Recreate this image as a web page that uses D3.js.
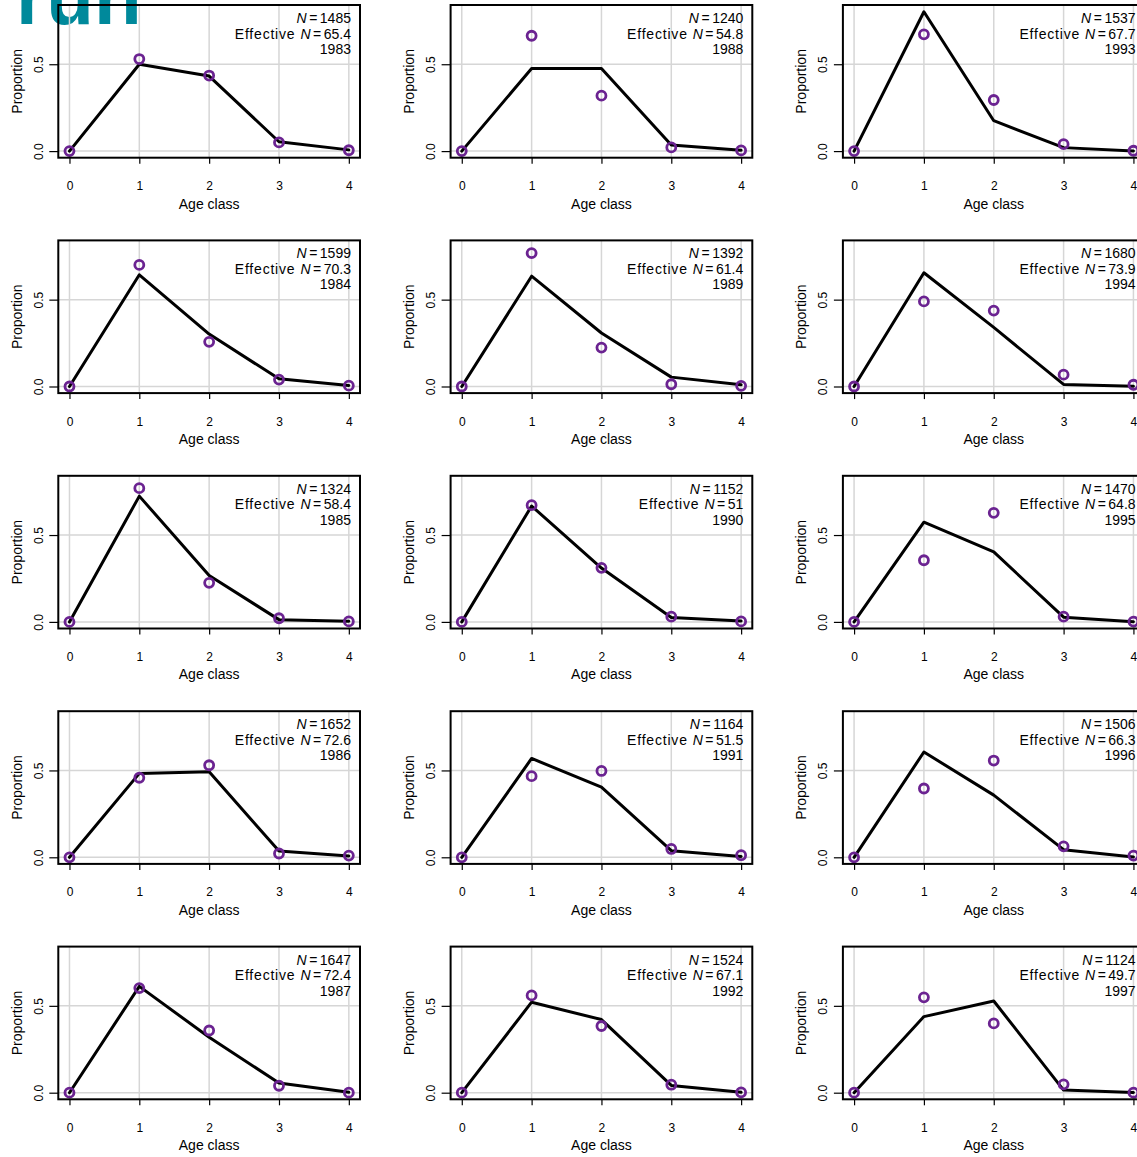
<!DOCTYPE html>
<html>
<head>
<meta charset="utf-8">
<script src="https://cdn.jsdelivr.net/npm/d3@7/dist/d3.min.js"></script>
<style>
  html, body { margin: 0; padding: 0; background: #fff; }
  svg { display: block; font-family: "Liberation Sans", Arial, Helvetica, sans-serif; }
</style>
</head>
<body>
<svg id="chart" width="1137" height="1157"></svg>
<script>
// Age composition by year: observed proportions (points) and fitted proportions (line)
const ageClasses = [0, 1, 2, 3, 4];
const yTicks = [0, 0.5];

const years      = [1983, 1984, 1985, 1986, 1987, 1988, 1989, 1990, 1991, 1992, 1993, 1994, 1995, 1996, 1997];
const sampleN    = [1485, 1599, 1324, 1652, 1647, 1240, 1392, 1152, 1164, 1524, 1537, 1680, 1470, 1506, 1124];
const effectiveN = [65.4, 70.3, 58.4, 72.6, 72.4, 54.8, 61.4, 51, 51.5, 67.1, 67.7, 73.9, 64.8, 66.3, 49.7];

const observed = [
  [0, 0.530, 0.435, 0.050, 0.005],
  [0, 0.700, 0.257, 0.040, 0.005],
  [0, 0.770, 0.225, 0.021, 0.003],
  [0, 0.458, 0.530, 0.022, 0.010],
  [0, 0.602, 0.358, 0.040, 0.000],
  [0, 0.664, 0.319, 0.021, 0.004],
  [0, 0.768, 0.224, 0.013, 0.004],
  [0, 0.672, 0.311, 0.030, 0.003],
  [0, 0.467, 0.497, 0.048, 0.012],
  [0, 0.560, 0.384, 0.046, 0.002],
  [0, 0.672, 0.294, 0.040, 0.002],
  [0, 0.490, 0.437, 0.068, 0.010],
  [0, 0.355, 0.628, 0.030, 0.002],
  [0, 0.396, 0.557, 0.063, 0.010],
  [0, 0.549, 0.399, 0.048, 0.000]
];

const expected = [
  [0, 0.500, 0.432, 0.054, 0.007],
  [0, 0.643, 0.302, 0.044, 0.006],
  [0, 0.724, 0.267, 0.013, 0.004],
  [0, 0.483, 0.492, 0.036, 0.008],
  [0, 0.612, 0.319, 0.056, 0.002],
  [0, 0.476, 0.476, 0.035, 0.005],
  [0, 0.635, 0.308, 0.054, 0.010],
  [0, 0.667, 0.310, 0.025, 0.005],
  [0, 0.569, 0.404, 0.038, 0.005],
  [0, 0.521, 0.421, 0.042, 0.002],
  [0, 0.802, 0.175, 0.020, 0.001],
  [0, 0.655, 0.340, 0.012, 0.002],
  [0, 0.574, 0.403, 0.027, 0.001],
  [0, 0.606, 0.358, 0.044, 0.002],
  [0, 0.438, 0.528, 0.015, 0.001]
];

// ---- layout ----
const nRows = 5;
const boxW = 301.7, boxH = 152.7;
const colX0 = 58.3, colStep = 392.3;
const rowY0 = 5, rowStep = 235.4;
const xDomain = [-0.16, 4.16];
const yDomain = [-0.038, 0.841];

const gridColor = "#d6d6d6";
const pointColor = "#6B2391";

const svg = d3.select("#chart");

// large heading fragment in the top-left corner
svg.append("text")
  .attr("x", 16).attr("y", 24)
  .attr("font-size", 78).attr("font-weight", "bold")
  .attr("fill", "#00899B")
  .text("run");

years.forEach((yr, i) => {
  const col = Math.floor(i / nRows);
  const row = i % nRows;
  const left = colX0 + col * colStep;
  const top = rowY0 + row * rowStep;

  const x = d3.scaleLinear().domain(xDomain).range([0, boxW]);
  const y = d3.scaleLinear().domain(yDomain).range([boxH, 0]);

  const g = svg.append("g").attr("transform", `translate(${left},${top})`);

  // grid
  g.selectAll("line.vgrid").data(ageClasses).join("line")
    .attr("class", "vgrid")
    .attr("x1", d => x(d)).attr("x2", d => x(d))
    .attr("y1", 0).attr("y2", boxH)
    .attr("stroke", gridColor).attr("stroke-width", 1.5);
  g.selectAll("line.hgrid").data(yTicks).join("line")
    .attr("class", "hgrid")
    .attr("x1", 0).attr("x2", boxW)
    .attr("y1", d => y(d)).attr("y2", d => y(d))
    .attr("stroke", gridColor).attr("stroke-width", 1.5);

  // x axis
  const xAxis = g.append("g")
    .attr("transform", `translate(0,${boxH})`)
    .call(d3.axisBottom(x).tickValues(ageClasses).tickFormat(d3.format("d")).tickSize(6).tickPadding(0));
  xAxis.select(".domain").remove();
  xAxis.selectAll(".tick line").attr("stroke", "#000").attr("stroke-width", 1.2);
  xAxis.selectAll(".tick text")
    .attr("y", 32.5).attr("dy", 0)
    .attr("font-size", 12).attr("fill", "#000")
    .attr("font-family", "Liberation Sans, Arial, sans-serif");

  // y axis
  const yAxis = g.append("g")
    .call(d3.axisLeft(y).tickValues(yTicks).tickFormat(d3.format(".1f")).tickSize(9).tickPadding(0));
  yAxis.select(".domain").remove();
  yAxis.selectAll(".tick line").attr("stroke", "#000").attr("stroke-width", 1.2);
  yAxis.selectAll(".tick text")
    .attr("x", 0).attr("dy", 0)
    .attr("transform", "translate(-15.6,0) rotate(-90)")
    .attr("text-anchor", "middle")
    .attr("font-size", 12).attr("fill", "#000")
    .attr("font-family", "Liberation Sans, Arial, sans-serif");

  // axis titles
  g.append("text")
    .attr("x", boxW / 2).attr("y", boxH + 51)
    .attr("text-anchor", "middle").attr("font-size", 14)
    .text("Age class");
  g.append("text")
    .attr("transform", `translate(-36.8,${boxH / 2}) rotate(-90)`)
    .attr("text-anchor", "middle").attr("font-size", 14)
    .text("Proportion");

  // fitted line
  const line = d3.line().x((d, k) => x(ageClasses[k])).y(d => y(d));
  g.append("path")
    .datum(expected[i])
    .attr("d", line)
    .attr("fill", "none").attr("stroke", "#000")
    .attr("stroke-width", 3).attr("stroke-linejoin", "round").attr("stroke-linecap", "round");

  // observed points
  g.selectAll("circle.obs").data(observed[i]).join("circle")
    .attr("class", "obs")
    .attr("cx", (d, k) => x(ageClasses[k])).attr("cy", d => y(d))
    .attr("r", 4.5)
    .attr("fill", "none").attr("stroke", pointColor).attr("stroke-width", 2.8);

  // box
  g.append("rect")
    .attr("x", 0).attr("y", 0).attr("width", boxW).attr("height", boxH)
    .attr("fill", "none").attr("stroke", "#000").attr("stroke-width", 2);

  // annotation
  const ann = g.append("g").attr("font-size", 14).attr("text-anchor", "end");
  const rx = boxW - 9;
  const t1 = ann.append("text").attr("x", rx).attr("y", 18);
  t1.append("tspan").attr("font-style", "italic").text("N");
  t1.append("tspan").attr("dx", 2.5).text("=");
  t1.append("tspan").attr("dx", 2.5).text(String(sampleN[i]));

  const t2 = ann.append("text").attr("x", rx).attr("y", 33.5);
  t2.append("tspan").attr("letter-spacing", 0.8).text("Effective");
  t2.append("tspan").attr("dx", 5).attr("font-style", "italic").text("N");
  t2.append("tspan").attr("dx", 2.5).text("=");
  t2.append("tspan").attr("dx", 2.5).text(String(effectiveN[i]));

  ann.append("text").attr("x", rx).attr("y", 49).text(String(yr));
});
</script>
</body>
</html>
